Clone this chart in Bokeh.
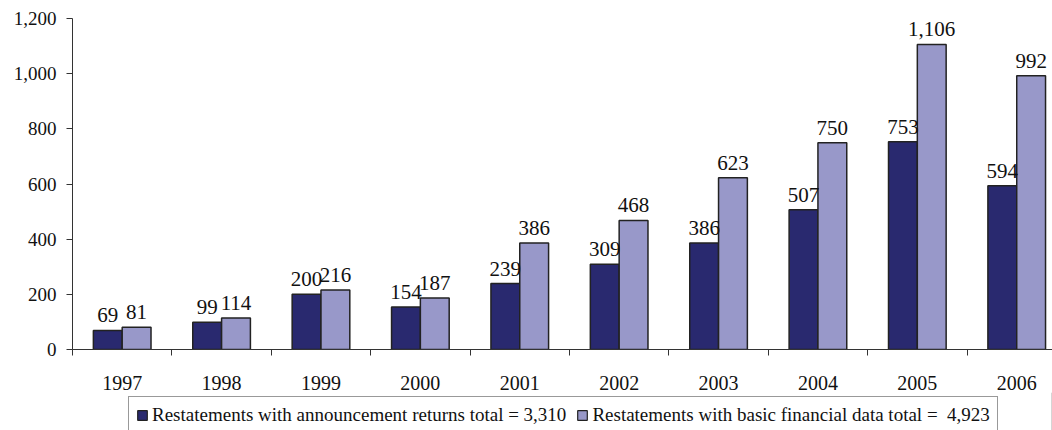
from bokeh.plotting import figure
from bokeh.layouts import column
from bokeh.models import (ColumnDataSource, FixedTicker, NumeralTickFormatter, Legend,
                          LegendItem, Range1d)
from bokeh.core.properties import value
from bokeh.embed import file_html
from bokeh.resources import INLINE

years = ["1997", "1998", "1999", "2000", "2001", "2002", "2003", "2004", "2005", "2006"]
announcement = [69, 99, 200, 154, 239, 309, 386, 507, 753, 594]
basic = [81, 114, 216, 187, 386, 468, 623, 750, 1106, 992]
series_names = ["Restatements with announcement returns total = 3,310",
                "Restatements with basic financial data total =  4,923"]
y_ticks = [0, 200, 400, 600, 800, 1000, 1200]

FONT = "Liberation Serif"
DARK = "#29296f"
LIGHT = "#9898c9"
EDGE = "#222222"
OFF = 0.145
BW = 0.29

idx = list(range(len(years)))
src_a = ColumnDataSource(dict(x=[i - OFF for i in idx], top=announcement,
                              lab=[f"{v:,}" for v in announcement]))
src_b = ColumnDataSource(dict(x=[i + OFF for i in idx], top=basic,
                              lab=[f"{v:,}" for v in basic]))

p = figure(width=1052, height=392, output_backend="svg", toolbar_location=None,
           x_range=Range1d(-0.5, 9.36), y_range=Range1d(0, 1200),
           min_border_left=72, min_border_right=0, min_border_top=18, min_border_bottom=43)
p.outline_line_color = None
p.grid.grid_line_color = None
p.background_fill_color = "white"

p.vbar(x="x", top="top", width=BW, source=src_a, fill_color=DARK,
       line_color=EDGE, line_width=1.5)
p.vbar(x="x", top="top", width=BW, source=src_b, fill_color=LIGHT,
       line_color=EDGE, line_width=1.5)

for src in (src_a, src_b):
    p.text(x="x", y="top", text="lab", source=src, text_align="center",
           text_baseline="bottom", y_offset=-8, text_font=value(FONT),
           text_font_size="21px", text_color="#111111")

# y axis
p.yaxis.ticker = FixedTicker(ticks=y_ticks)
p.yaxis.formatter = NumeralTickFormatter(format="0,0")
p.yaxis.major_label_text_font = FONT
p.yaxis.major_label_text_font_size = "19px"
p.yaxis.major_label_text_color = "#111111"
p.yaxis.major_tick_in = 0
p.yaxis.major_tick_out = 6
p.yaxis.minor_tick_line_color = None
p.yaxis.axis_line_color = "#333333"
p.yaxis.major_tick_line_color = "#333333"
p.yaxis.major_label_standoff = 10

# x axis
p.xaxis.ticker = FixedTicker(ticks=idx, minor_ticks=[i - 0.5 for i in idx] + [9.5])
p.xaxis.major_label_overrides = {i: y for i, y in zip(idx, years)}
p.xaxis.major_label_text_font = FONT
p.xaxis.major_label_text_font_size = "20px"
p.xaxis.major_label_text_color = "#111111"
p.xaxis.major_tick_in = 0
p.xaxis.major_tick_out = 0
p.xaxis.minor_tick_in = 0
p.xaxis.minor_tick_out = 6
p.xaxis.minor_tick_line_color = "#333333"
p.xaxis.axis_line_color = "#333333"
p.xaxis.major_label_standoff = 20

# legend strip below the chart
lf = figure(width=1052, height=38, output_backend="svg", toolbar_location=None,
            x_range=Range1d(0, 1), y_range=Range1d(0, 1),
            x_axis_location=None, y_axis_location=None,
            min_border_left=72, min_border_right=0, min_border_top=0, min_border_bottom=0)
lf.outline_line_color = None
lf.grid.grid_line_color = None
ga = lf.vbar(x=[5], top=[1], width=0.1, fill_color=DARK, line_color=EDGE, line_width=1.2)
gb = lf.vbar(x=[5], top=[1], width=0.1, fill_color=LIGHT, line_color=EDGE, line_width=1.2)
legend = Legend(items=[LegendItem(label=series_names[0], renderers=[ga]),
                       LegendItem(label=series_names[1], renderers=[gb])],
                orientation="horizontal", location=(56, -4),
                label_text_font=FONT, label_text_font_size="19px",
                label_text_color="#111111",
                glyph_width=12, glyph_height=12, label_standoff=4, spacing=10,
                padding=7, margin=0,
                border_line_color="#333333", border_line_width=1,
                background_fill_alpha=1)
lf.add_layout(legend, "center")

layout = column(p, lf, spacing=0)
open("out.html", "w").write(file_html(layout, INLINE))
